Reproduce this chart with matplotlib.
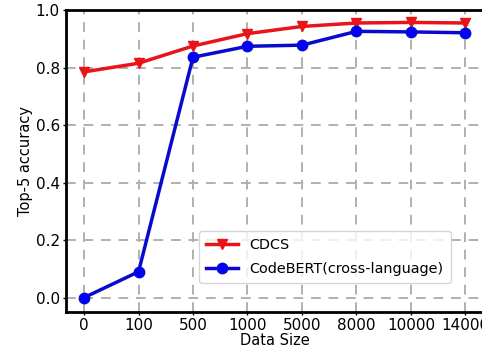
import matplotlib
matplotlib.use('Agg')
import matplotlib.pyplot as plt

# data
sizes = ['0', '100', '500', '1000', '5000', '8000', '10000', '14000']
cdcs = [0.785, 0.815, 0.875, 0.918, 0.943, 0.955, 0.957, 0.955]
codebert = [0.0, 0.09, 0.836, 0.874, 0.878, 0.926, 0.924, 0.921]

fig = plt.figure(figsize=(4.82, 3.54), dpi=100)
# right spine of the original is cropped off, so the axes run past the edge
ax = fig.add_axes([0.137, 0.1186, 0.866, 0.853])

x = list(range(len(sizes)))
ax.plot(x, cdcs, color='#e8141a', lw=2.5, marker='v', ms=7.5, label='CDCS')
ax.plot(x, codebert, color='#0a0acd', lw=2.5, marker='o', ms=7.5,
        markerfacecolor='#0000ff', label='CodeBERT(cross-language)')

ax.set_xlim(-0.33, 7.33)
ax.set_ylim(-0.05, 1.0)
ax.set_xticks(x)
ax.set_xticklabels(sizes)
ax.set_yticks([0.0, 0.2, 0.4, 0.6, 0.8, 1.0])
ax.tick_params(labelsize=11, length=2, width=1, pad=2.5)
ax.grid(True, color='#b0b0b0', ls=(0, (5, 4)), lw=1.4)

for s in ax.spines.values():
    s.set_linewidth(2)

ax.set_xlabel('Data Size', fontsize=10.5, labelpad=0)
ax.set_ylabel('Top-5 accuracy', fontsize=10.5, labelpad=2)

ax.legend(loc='lower left', bbox_to_anchor=(0.319, 0.096), borderaxespad=0,
          fontsize=10.4, handlelength=2.2, borderpad=0.5, labelspacing=0.65)

fig.savefig('out.png', dpi=100)
